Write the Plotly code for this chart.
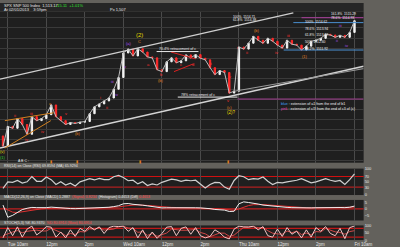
import plotly.graph_objects as go

# ---------------- data ----------------
bars = list(range(1, 75))
close = [1502.40, 1504.33, 1504.15, 1505.10, 1504.52, 1503.56, 1505.29, 1504.90, 1505.10, 1505.48,
         1506.44, 1505.29, 1504.90, 1504.52, 1504.71, 1504.62, 1504.75, 1504.81, 1505.58, 1506.25,
         1506.54, 1506.83, 1507.12, 1507.98, 1509.13, 1511.54, 1511.92, 1511.25, 1511.95, 1511.63,
         1511.15, 1511.06, 1509.90, 1509.71, 1510.67, 1511.06, 1510.58, 1510.77, 1511.35, 1511.06,
         1511.38, 1511.02, 1510.87, 1510.10, 1509.42, 1509.81, 1509.62, 1507.60, 1507.79, 1512.12,
         1511.92, 1512.50, 1513.17, 1512.79, 1512.50, 1512.98, 1512.69, 1512.31, 1512.02, 1512.79,
         1512.40, 1512.31, 1511.83, 1512.21, 1512.69, 1512.79, 1512.98, 1513.37, 1513.30, 1513.08,
         1513.27, 1513.08, 1513.56, 1514.71]
first_open = 1503.40
rsi = [25, 50, 48, 55, 45, 50, 70, 52, 52, 68, 58, 40, 50, 38, 45, 34, 50, 56, 62, 57,
       63, 58, 58, 69, 74, 66, 54, 56, 42, 50, 36, 42, 38, 48, 54, 60, 57, 52, 56, 54,
       56, 42, 27, 40, 48, 47, 30, 22, 55, 73, 69, 58, 62, 60, 68, 52, 40, 48, 46, 50,
       53, 56, 62, 55, 46, 50, 57, 62, 56, 52, 55, 40, 58, 80]
macd = [3.0, -6.5, -5.0, -2.5, -0.5, 0.5, 1.2, 1.0, 0.8, 1.0, 1.4, 1.0, 0.6, 0.3, 0.3, 0.2, 0.3, 0.4, 0.7, 1.0,
        1.1, 1.2, 1.3, 1.8, 2.5, 4.0, 4.2, 3.6, 3.4, 2.9, 2.4, 1.9, 1.2, 0.8, 0.9, 1.0, 0.9, 0.8, 0.9, 0.8,
        0.9, 0.8, 0.6, 0.2, -0.4, -0.6, -0.9, -2.0, -1.8, 4.0, 5.5, 5.0, 4.6, 3.8, 3.0, 2.6, 2.0, 1.6, 1.2, 1.2,
        1.0, 0.9, 0.6, 0.6, 0.8, 0.9, 1.0, 1.3, 1.3, 1.1, 1.1, 1.0, 1.3, 2.2]
signal = [1.0, -1.0, -2.5, -2.8, -2.2, -1.5, -0.8, -0.3, 0.1, 0.4, 0.7, 0.8, 0.8, 0.7, 0.6, 0.5, 0.4, 0.4, 0.5, 0.6,
          0.8, 0.9, 1.0, 1.2, 1.5, 2.1, 2.7, 3.0, 3.1, 3.0, 2.8, 2.5, 2.1, 1.7, 1.4, 1.2, 1.1, 1.0, 0.9, 0.9,
          0.9, 0.9, 0.8, 0.6, 0.3, 0.0, -0.3, -0.8, -1.1, 0.0, 1.5, 2.6, 3.3, 3.5, 3.4, 3.1, 2.8, 2.4, 2.0, 1.7,
          1.5, 1.3, 1.1, 0.9, 0.9, 0.9, 0.9, 1.0, 1.1, 1.1, 1.1, 1.1, 1.1, 1.4]
stoch_k = [15, 85, 30, 90, 20, 75, 95, 35, 60, 92, 88, 20, 55, 15, 70, 25, 80, 60, 92, 70,
           90, 45, 85, 95, 92, 96, 60, 85, 15, 70, 10, 55, 12, 45, 88, 92, 30, 80, 90, 40,
           85, 30, 15, 25, 70, 50, 20, 8, 75, 95, 90, 88, 95, 70, 92, 30, 20, 75, 25, 85,
           40, 60, 15, 70, 20, 85, 60, 92, 45, 30, 80, 10, 85, 96]
stoch_d = [30, 45, 55, 65, 50, 60, 65, 68, 62, 62, 80, 68, 52, 30, 45, 38, 58, 55, 77, 74,
           84, 68, 73, 75, 90, 94, 82, 80, 53, 57, 32, 45, 26, 37, 48, 75, 70, 67, 67, 70,
           72, 52, 43, 23, 37, 48, 47, 26, 34, 59, 87, 91, 91, 84, 86, 64, 47, 42, 40, 62,
           50, 62, 38, 48, 35, 58, 55, 79, 66, 56, 52, 40, 58, 64]

tick_bars = [2, 10, 18, 26, 34, 42, 50, 58, 66, 74]
tick_text = ['Tue 10am', '12pm', '2pm', 'Wed 10am', '12pm', '2pm', 'Thu 10am', '12pm', '2pm', 'Fri 10am']

open_ = [first_open] + close[:-1]
high = [max(o, c) for o, c in zip(open_, close)]
low = [min(o, c) for o, c in zip(open_, close)]

# ---------------- figure ----------------
FONT = "Liberation Sans"
TXT = "#e6e6e6"
H = 247.0

def py(p):
    return 1 - p / H

fig = go.Figure()
fig.add_trace(go.Scatter(x=bars, y=close, mode="lines", line=dict(color="#bdbdbd", width=1),
                         xaxis="x", yaxis="y", showlegend=False, hoverinfo="skip"))
fig.add_trace(go.Candlestick(
    x=bars, open=open_, high=high, low=low, close=close,
    increasing=dict(line=dict(color="#f4f4f4", width=1), fillcolor="#f4f4f4"),
    decreasing=dict(line=dict(color="#ff2a2a", width=1), fillcolor="#ff2a2a"),
    whiskerwidth=0, xaxis="x", yaxis="y", showlegend=False))
fig.add_trace(go.Scatter(x=bars, y=rsi, mode="lines", line=dict(color="#d0d0d0", width=1.2),
                         xaxis="x2", yaxis="y2", showlegend=False))
fig.add_trace(go.Scatter(x=bars, y=signal, mode="lines", line=dict(color="#e03030", width=1),
                         xaxis="x3", yaxis="y3", showlegend=False))
fig.add_trace(go.Scatter(x=bars, y=macd, mode="lines", line=dict(color="#f0f0f0", width=1),
                         xaxis="x3", yaxis="y3", showlegend=False))
fig.add_trace(go.Scatter(x=bars, y=stoch_d, mode="lines", line=dict(color="#d04848", width=1),
                         xaxis="x4", yaxis="y4", showlegend=False))
fig.add_trace(go.Scatter(x=bars, y=stoch_k, mode="lines", line=dict(color="#f0c4c4", width=1),
                         xaxis="x4", yaxis="y4", showlegend=False))

XDOM = [0, 0.93]
GRID = "#4a4a4a"
xcommon = dict(domain=XDOM, tickvals=tick_bars, showgrid=True, gridcolor=GRID, gridwidth=1,
               zeroline=False, ticks="", showline=False)
ymain_range = [1500.77, 1515.58]

fig.update_layout(
    width=400, height=247, margin=dict(l=0, r=0, t=0, b=0),
    paper_bgcolor="#63615c", plot_bgcolor="#1f1f1f",
    font=dict(family=FONT, size=4, color=TXT),
    showlegend=False, boxgap=0.6,
    xaxis=dict(**xcommon, range=[0.376, 75.9], anchor="y", showticklabels=False,
               rangeslider=dict(visible=False)),
    xaxis2=dict(**xcommon, matches="x", anchor="y2", showticklabels=False),
    xaxis3=dict(**xcommon, matches="x", anchor="y3", showticklabels=False),
    xaxis4=dict(**xcommon, matches="x", anchor="y4", showticklabels=True, ticktext=tick_text,
                ticklabelposition="outside right", tickfont=dict(size=4.5, color=TXT)),
    yaxis=dict(domain=[py(163), py(9)], range=ymain_range, anchor="x", side="right",
               dtick=1, tick0=1501, showticklabels=False, showgrid=True, gridcolor="#3a3a3a",
               zeroline=False, ticks=""),
    yaxis5=dict(overlaying="y", anchor="x", side="right", range=ymain_range, dtick=0.5, tick0=1501,
                tickformat=",.2f", showgrid=False, zeroline=False, ticks="",
                tickfont=dict(size=4.2, color=TXT)),
    yaxis2=dict(domain=[py(196), py(169)], range=[0, 100], anchor="x2", side="right",
                tickvals=[0, 30, 50, 70, 100], showgrid=False, zeroline=False, ticks="",
                tickfont=dict(size=4, color=TXT)),
    yaxis3=dict(domain=[py(222), py(201)], range=[-9, 7], anchor="x3", side="right",
                tickvals=[-5, 0, 5], showgrid=False, zeroline=False, ticks="",
                tickfont=dict(size=4, color=TXT)),
    yaxis4=dict(domain=[py(242), py(227)], range=[0, 100], anchor="x4", side="right",
                tickvals=[0, 50, 100], showgrid=False, zeroline=False, ticks="",
                tickfont=dict(size=4, color=TXT)),
)

shapes = []
# header strip
shapes.append(dict(type="rect", xref="paper", yref="paper", x0=0, x1=0.93, y0=py(9), y1=1,
                   fillcolor="#262626", line=dict(width=0), layer="below"))
# indicator reference lines
for yr, val, col in [("y2", 70, "#d01010"), ("y2", 30, "#b02020"), ("y3", 0, "#c02020"),
                     ("y4", 80, "#c01818"), ("y4", 20, "#c01818")]:
    xr = "x" + yr[1:] + " domain"
    shapes.append(dict(type="line", xref=xr, yref=yr, x0=0, x1=1, y0=val, y1=val,
                       line=dict(color=col, width=1.2), layer="below"))

def seg(x0, y0, x1, y1, color, width=1.2):
    shapes.append(dict(type="line", xref="x", yref="y", x0=x0, y0=y0, x1=x1, y1=y1,
                       line=dict(color=color, width=width)))

# channel lines
seg(0.376, 1508.97, 61.3, 1515.48, "#cfcfcf", 1.4)
seg(0.376, 1502.21, 75.9, 1510.24, "#d4d4d4", 1.4)
seg(49.1, 1507.79, 75.9, 1510.00, "#9a9a9a", 1)
# orange trendlines
seg(1.39, 1502.21, 10.93, 1504.90, "#d08020", 1)
seg(1.39, 1504.90, 11.54, 1505.67, "#d08020", 1)
# red trendlines
seg(35.91, 1511.63, 40.98, 1510.96, "#e02020", 1)
seg(36.52, 1509.71, 40.58, 1510.48, "#e02020", 1)
# fib / extension levels
seg(63.0, 1515.00, 75.9, 1515.00, "#b040a0", 1)
seg(61.3, 1514.52, 75.9, 1514.52, "#4a8fd0", 1)
seg(59.3, 1511.83, 75.9, 1511.83, "#4a8fd0", 1)
seg(49.7, 1507.02, 75.9, 1507.02, "#a03c90", 1)
# retracement underline segments
seg(32.9, 1511.68, 41.6, 1511.68, "#e8e8e8", 1)
seg(37.3, 1507.21, 49.7, 1507.21, "#e8e8e8", 1)
fig.update_layout(shapes=shapes)

ann = []

def lab(x, y, text, color="#ff3030", size=4, xanchor="center"):
    ann.append(dict(x=x, y=y, xref="x", yref="y", text=text, showarrow=False,
                    font=dict(size=size, color=color, family=FONT), xanchor=xanchor, yanchor="middle"))

RED, PUR, ORG, YEL, GRN, WHT = "#ff3030", "#b050f0", "#e08020", "#e8d800", "#30d030", "#f0f0f0"
for x, y, t, c in [
    (3.42, 1505.39, "ii", RED), (6.87, 1505.58, "iii", RED), (5.86, 1503.08, "iv", RED),
    (9.11, 1503.85, "iv", RED), (13.98, 1505.58, "v", RED), (21.29, 1507.21, "i", RED),
    (22.51, 1506.15, "ii", RED), (23.73, 1508.75, "iii", PUR), (24.54, 1507.50, "iv", PUR),
    (26.37, 1510.19, "v", PUR), (16.62, 1503.65, "(b)", ORG), (10.93, 1506.54, "a", ORG),
    (27.18, 1512.50, "(a)", PUR), (29.41, 1512.69, "C", ORG), (31.24, 1510.38, "a", RED),
    (33.88, 1509.42, "b", RED), (33.88, 1508.85, "(b)", ORG), (37.94, 1510.38, "c", RED),
    (40.38, 1510.38, "d", RED), (44.03, 1510.48, "iii", RED), (48.09, 1509.23, "iv", RED),
    (47.69, 1506.83, "v", RED), (48.09, 1506.15, "(c)", ORG), (49.72, 1512.12, "i", RED),
    (51.75, 1511.63, "ii", RED), (53.78, 1513.75, "(b)", ORG), (60.28, 1513.27, "iii", RED),
    (57.84, 1511.63, "iv", RED), (63.73, 1511.15, "(1)", ORG), (71.0, 1514.25, "iii", PUR),
    (70.3, 1512.75, "ii", PUR), (72.3, 1512.25, "iv", PUR),
    (0.9, 1501.83, "(v)", YEL), (1.0, 1501.25, "(1)", GRN),
    (10.93, 1500.90, "▮", ORG), (16.42, 1500.90, "▮", ORG), (29.41, 1500.90, "▮", ORG),
    (47.69, 1500.90, "▮", ORG)]:
    lab(x, y, t, c)
lab(29.41, 1513.35, "(2)", YEL, size=6)
lab(48.5, 1505.67, "(2)?", YEL, size=4.5)
lab(3.6, 1500.90, "A B C :", WHT, size=3.5, xanchor="left")

# fib texts
for x, y, t in [(48.3, 1515.06, "100%  1514.71"), (48.3, 1514.73, "61.8%  1514.38"),
                (63.3, 1514.62, "100%  1514.62"), (63.3, 1513.94, "78.6%  1513.94"),
                (63.3, 1513.27, "61.8%  1513.27"), (63.3, 1512.60, "50%  1512.60"),
                (63.3, 1511.92, "38.2%  1511.92"), (68.8, 1515.32, "161.8%  1515.29"),
                (68.8, 1514.96, "78.6%  1514.93")]:
    lab(x, y, t, WHT, size=3.3, xanchor="left")
lab(37.3, 1511.92, "76.4% retracement of c", WHT, size=3.6)
lab(41.4, 1507.40, "78% retracement of c", WHT, size=3.6)
lab(58.4, 1506.54, "<span style='color:#3fa0ff'>blue</span> : extension of a1 from the end of b1",
    WHT, size=3.6, xanchor="left")
lab(58.4, 1506.06, "<span style='color:#e050c0'>pink</span> : extension of c/3 from the end of c3 of (c)",
    WHT, size=3.6, xanchor="left")

# header and panel captions
def ptxt(x, y, text, color=TXT, size=4):
    ann.append(dict(x=x, y=y, xref="paper", yref="paper", text=text, showarrow=False,
                    font=dict(size=size, color=color, family=FONT), xanchor="left", yanchor="middle"))

ptxt(0.005, py(2.5), "SPX SNP 500 Index  1,513.17", size=4)
ptxt(0.135, py(2.5), "+15.11  +1.01%", color="#30e030", size=4)
ptxt(0.005, py(7), "At 02/01/2013    3:59pm", size=4)
ptxt(0.275, py(7), "Px 1,507", size=4)
ptxt(0.005, py(166), "RSI(14) on Close (RSI) 69.8594 (MA) 65.9294", size=3.6)
ptxt(0.005, py(198.5), "MACD(12,26,9) on Close (MACD) 1.2887  "
     "<span style='color:#ff4040'>(Signal) 0.8234</span>  (Histogram) 0.4653 (Diff) "
     "<span style='color:#ff4040'>0.4653</span>", size=3.6)
ptxt(0.005, py(224.5), "STOCH(5,3) %K 80.9370  <span style='color:#ff4040'>%D 80.6914 (Slow) 80.6914</span>",
     size=3.6)

fig.update_layout(annotations=ann)
fig.write_html("out.html")
